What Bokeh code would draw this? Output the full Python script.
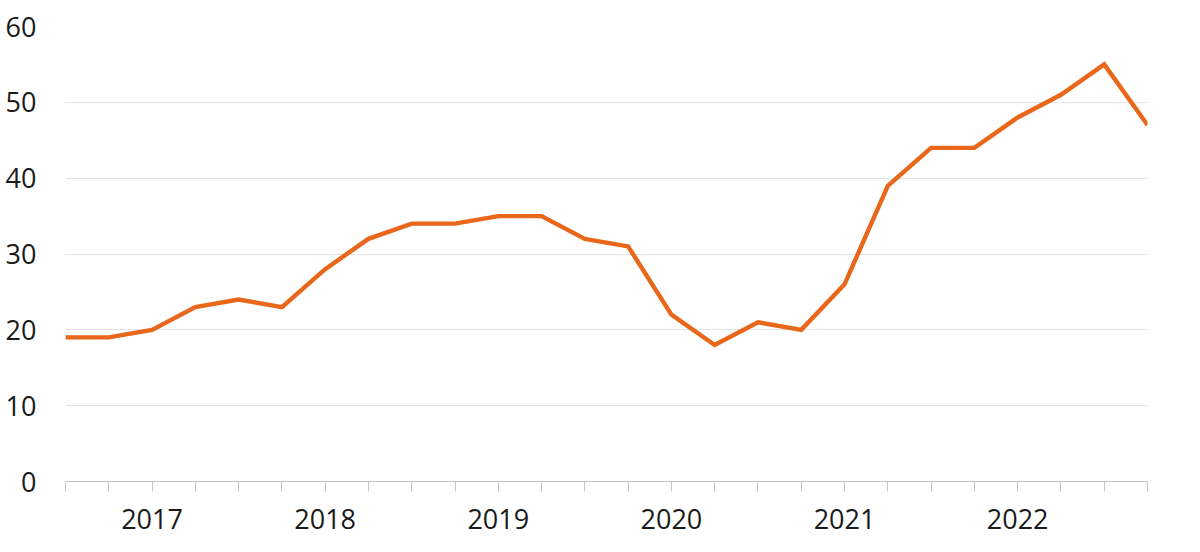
from bokeh.plotting import figure
from bokeh.models import Range1d, FixedTicker
from bokeh.embed import file_html
from bokeh.resources import INLINE

values = [19, 19, 20, 23, 24, 23, 28, 32, 34, 34, 35, 35, 32, 31,
          22, 18, 21, 20, 26, 39, 44, 44, 48, 51, 55, 47]
year_labels = ["2017", "2018", "2019", "2020", "2021", "2022"]
year_label_index = [2, 6, 10, 14, 18, 22]
y_ticks = [0, 10, 20, 30, 40, 50, 60]

x = list(range(len(values)))

W, H = 1190, 545
p = figure(width=W, height=H, output_backend="svg", toolbar_location=None,
           x_range=Range1d(0, len(values) - 1), y_range=Range1d(0, 60),
           min_border_left=65, min_border_right=W - 1147, min_border_top=26,
           min_border_bottom=H - 481)
p.outline_line_color = None
p.background_fill_color = "white"
p.border_fill_color = "white"

p.line(x, values, line_color="#E8671B", line_width=4.4, line_join="miter")

FONT = "Open Sans"

# y axis
p.yaxis.ticker = FixedTicker(ticks=y_ticks)
p.yaxis.axis_line_color = None
p.yaxis.major_tick_line_color = None
p.yaxis.minor_tick_line_color = None
p.yaxis.major_label_text_font = FONT
p.yaxis.major_label_text_font_size = "27px"
p.yaxis.major_label_text_color = "#1a1a1a"
p.yaxis.major_label_standoff = 23

# x axis
p.xaxis.ticker = FixedTicker(ticks=x)
overrides = {i: "" for i in x}
for idx, lab in zip(year_label_index, year_labels):
    overrides[idx] = lab
p.xaxis.major_label_overrides = overrides
p.xaxis.axis_line_color = "#c4c4c4"
p.xaxis.axis_line_width = 1.2
p.xaxis.major_tick_line_color = "#c4c4c4"
p.xaxis.major_tick_in = 0
p.xaxis.major_tick_out = 10
p.xaxis.minor_tick_line_color = None
p.xaxis.major_label_text_font = FONT
p.xaxis.major_label_text_font_size = "27px"
p.xaxis.major_label_text_color = "#1a1a1a"
p.xaxis.major_label_standoff = 17

p.xgrid.grid_line_color = None
p.ygrid.ticker = FixedTicker(ticks=y_ticks[1:])
p.ygrid.grid_line_color = "#e3e3e3"
p.ygrid.grid_line_width = 1

open("out.html", "w").write(file_html(p, INLINE))
